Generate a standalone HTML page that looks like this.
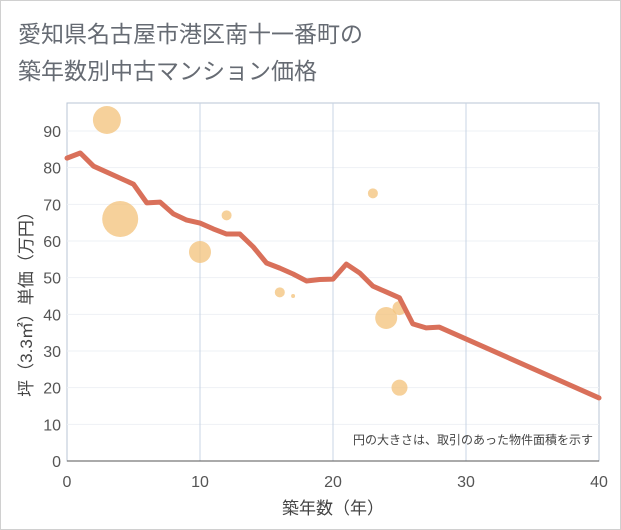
<!DOCTYPE html>
<html><head><meta charset="utf-8"><style>
body{margin:0;background:#fff;}
#wrap{position:relative;width:619px;height:528px;border:1px solid #d0d0d0;background:#fff;font-family:"Liberation Sans","Noto Sans CJK JP",sans-serif;}
.title{position:absolute;left:17px;color:#666b73;font-size:23px;line-height:30px;}
</style></head><body>
<div id="wrap">
<div class="title" style="top:18px">愛知県名古屋市港区南十一番町の</div>
<div class="title" style="top:55px">築年数別中古マンション価格</div>
<svg id="c" width="621" height="530" style="position:absolute;left:-1px;top:-1px"></svg>
</div>
<script>
const lineX=[0,1,2,5,6,7,8,9,10,11,12,13,14,15,16,17,18,19,20,21,22,23,24,25,26,27,28,40];
const lineY=[82.6,84,80.4,75.5,70.4,70.6,67.4,65.7,64.9,63.3,61.9,61.9,58.4,54,52.6,51,49.1,49.5,49.6,53.7,51.3,47.7,46.1,44.5,37.4,36.3,36.5,17.2];
const bubX=[3,4,10,12,16,17,23,24,25,25];
const bubY=[93,66,57,67,46,45,73,39,41.7,20];
const bubR=[14,18,11,5,5,2,5,11,7,8];
const xTicks=[0,10,20,30,40];
const yTicks=[0,10,20,30,40,50,60,70,80,90];
const NS='http://www.w3.org/2000/svg';
const svg=document.getElementById('c');
const L=67,R=599,T=103,B=461;
const xs=v=>L+(R-L)*v/40;
const ys=v=>B-(v/90)*(B-131);
function mk(t,a){const e=document.createElementNS(NS,t);for(const k in a)e.setAttribute(k,a[k]);svg.appendChild(e);return e;}
const bg=mk('rect',{x:L,y:T,width:R-L,height:B-T,fill:'#fff',stroke:'#b8c4d4','stroke-width':1});

yTicks.forEach(v=>{
 const g=mk('line',{x1:L,x2:R,y1:ys(v),y2:ys(v),stroke:'#eef1f5','stroke-width':1});
 
 const t=mk('text',{x:L-6,y:ys(v)+6,'text-anchor':'end','font-size':16,fill:'#555'});t.textContent=v;
 
});
xTicks.forEach(v=>{
 if(v>0&&v<40){const g=mk('line',{x1:xs(v),x2:xs(v),y1:T,y2:B,stroke:'#c8d4e4','stroke-width':1});
 }
 const t=mk('text',{x:xs(v),y:487,'text-anchor':'middle','font-size':16,fill:'#555'});t.textContent=v;
 
});
const ax=mk('line',{x1:L,x2:R,y1:B,y2:B,stroke:'#555','stroke-width':1});

bubX.forEach((x,i)=>{
 const c=mk('circle',{cx:xs(x),cy:ys(bubY[i]),r:bubR[i],fill:'#f3c27a','fill-opacity':0.75});
 
});
const p=mk('polyline',{points:lineX.map((x,i)=>xs(x)+','+ys(lineY[i])).join(' '),fill:'none',stroke:'#d9705a','stroke-width':5,'stroke-linejoin':'round','stroke-linecap':'round'});

const note=mk('text',{x:593,y:444,'text-anchor':'end','font-size':12,fill:'#444'});note.textContent='円の大きさは、取引のあった物件面積を示す';

const xt=mk('text',{x:333,y:514,'text-anchor':'middle','font-size':17,fill:'#444'});xt.textContent='築年数（年）';

const yt=mk('text',{x:0,y:0,'text-anchor':'middle','font-size':17,fill:'#444',transform:'translate(32,300) rotate(-90)'});yt.textContent='坪（3.3㎡）単価（万円）';

</script>
</body></html>
